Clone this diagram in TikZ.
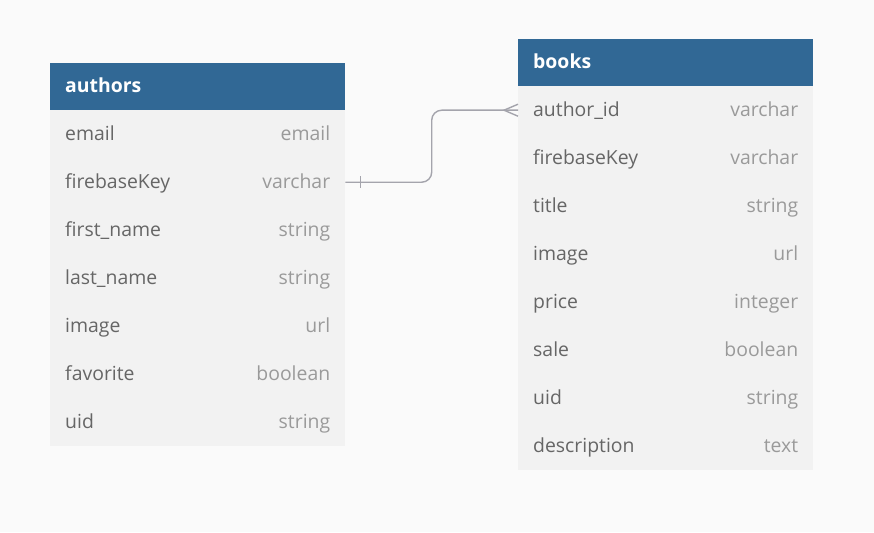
\documentclass[tikz,border=0pt]{standalone}
\usepackage{fontspec}
\setmainfont{Open Sans}
\usepackage{tikz}
\usetikzlibrary{calc}
\definecolor{headblue}{HTML}{316895}
\definecolor{rowgray}{HTML}{F2F2F2}
\definecolor{namegray}{HTML}{666666}
\definecolor{typegray}{HTML}{9A9A9A}
\definecolor{linkgray}{HTML}{A4A4AC}
\definecolor{bggray}{HTML}{FAFAFA}
\tikzset{
  tblhead/.style={anchor=north west, fill=headblue, text=white,
    font=\fontsize{19.4}{23}\selectfont\bfseries, minimum width=295pt,
    minimum height=47pt, text width=265pt, inner xsep=15pt, align=left,
    text height=15pt, text depth=3pt},
  tblrow/.style={anchor=north west, fill=rowgray, text=namegray,
    font=\fontsize{19.4}{23}\selectfont, minimum width=295pt,
    minimum height=48pt, text width=265pt, inner xsep=15pt, align=left,
    text height=15pt, text depth=3pt},
  link/.style={draw=linkgray, line width=1.4pt},
}
\begin{document}
\begin{tikzpicture}[x=1pt,y=-1pt]
\fill[bggray] (0,0) rectangle (874,532);
\useasboundingbox (0,0) rectangle (874,532);

% authors table
\node[tblhead] (authors) at (50,63) {authors};
\foreach \n/\t [count=\i] in {email/email, firebaseKey/varchar, first\_name/string,
  last\_name/string, image/url, favorite/boolean, uid/string} {
  \node[tblrow] (a\i) at (50,{62+48*\i}) {\n\hfill{\color{typegray}\t}};
}

% books table
\node[tblhead] (books) at (518,39) {books};
\foreach \n/\t [count=\i] in {author\_id/varchar, firebaseKey/varchar, title/string,
  image/url, price/integer, sale/boolean, uid/string, description/text} {
  \node[tblrow] (b\i) at (518,{38+48*\i}) {\n\hfill{\color{typegray}\t}};
}

% relation authors.firebaseKey -- books.author_id
\coordinate (mid) at ($(a2.east)!0.5!(b1.west)$);
\draw[link, rounded corners=10pt] (a2.east) -| (mid) |- (b1.west);
\draw[link] ([xshift=15pt,yshift=6pt]a2.east) -- ([xshift=15pt,yshift=-6pt]a2.east);
\draw[link] ([yshift=6pt]b1.west) -- ([xshift=-14pt]b1.west) -- ([yshift=-6pt]b1.west);
\end{tikzpicture}
\end{document}
